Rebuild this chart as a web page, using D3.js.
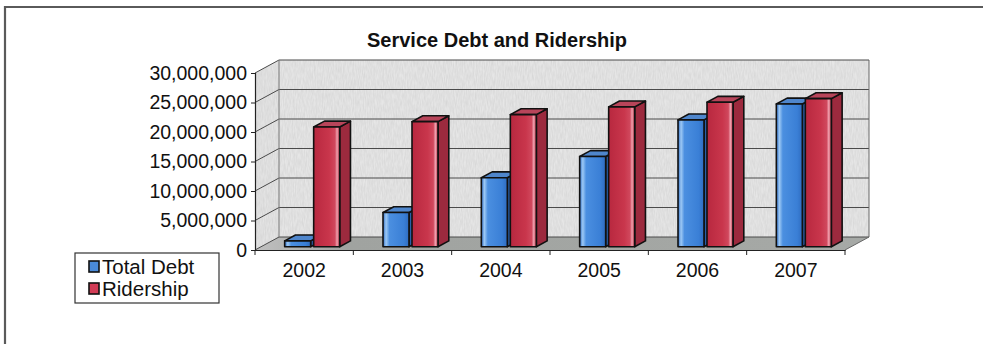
<!DOCTYPE html>
<html>
<head>
<meta charset="utf-8">
<script src="https://cdn.jsdelivr.net/npm/d3@7/dist/d3.min.js"></script>
<style>
  html, body { margin: 0; padding: 0; background: #fff; }
  svg { display: block; font-family: Arial, "Liberation Sans", sans-serif; }
</style>
</head>
<body>
<svg id="chart" width="983" height="344"></svg>
<script>
// Yearly values for the service
const years = ["2002", "2003", "2004", "2005", "2006", "2007"];
const totalDebt = [1000000, 5800000, 11700000, 15300000, 21500000, 24200000];
const ridership = [20300000, 21200000, 22400000, 23700000, 24500000, 25100000];
const seriesNames = ["Total Debt", "Ridership"];
const yTicks = [0, 5000000, 10000000, 15000000, 20000000, 25000000, 30000000];

const svg = d3.select("#chart");
const defs = svg.append("defs");

// Layout of the 3D box
const axisX0 = 255, axisX1 = 845;
const axisY0 = 250, axisY1 = 73;
const depth = { dx: 24, dy: -13 };     // floor/wall depth offset
const barFront = 0.25, barDepth = 0.45; // bar placement along depth

const x = d3.scaleBand().domain(years).range([axisX0, axisX1]);
const y = d3.scaleLinear().domain([0, 30000000]).range([axisY0, axisY1]);

// Outer frame
svg.append("path")
  .attr("d", "M5,344 L5,7 L990,7")
  .attr("fill", "none").attr("stroke", "#5a5a5a").attr("stroke-width", 2.2);

// Textures and gradients
const tex = defs.append("filter").attr("id", "grain").attr("x", 0).attr("y", 0).attr("width", 1).attr("height", 1);
tex.append("feTurbulence").attr("type", "fractalNoise").attr("baseFrequency", "0.9 0.15").attr("numOctaves", 2).attr("seed", 3).attr("result", "n");
tex.append("feColorMatrix").attr("in", "n").attr("type", "matrix")
  .attr("values", "0 0 0 0 0.55  0 0 0 0 0.55  0 0 0 0 0.55  0 0 0 0.7 -0.15").attr("result", "g");
tex.append("feComposite").attr("in", "g").attr("in2", "SourceGraphic").attr("operator", "in").attr("result", "gi");
tex.append("feMerge").selectAll("feMergeNode").data(["SourceGraphic", "gi"]).join("feMergeNode").attr("in", d => d);

const floorGrad = defs.append("linearGradient").attr("id", "floorGrad").attr("x1", 0).attr("x2", 1).attr("y1", 0).attr("y2", 0);
floorGrad.append("stop").attr("offset", 0).attr("stop-color", "#c0c0c0");
floorGrad.append("stop").attr("offset", 0.15).attr("stop-color", "#a0a3a0");
floorGrad.append("stop").attr("offset", 1).attr("stop-color", "#a6a9a6");

const blueGrad = defs.append("linearGradient").attr("id", "blueFront").attr("x1", 0).attr("x2", 1);
[[0, "#2f6fc8"], [0.12, "#9cc8f4"], [0.25, "#4b8fe0"], [0.8, "#3a7fd6"], [1, "#2f6cc0"]]
  .forEach(([o, c]) => blueGrad.append("stop").attr("offset", o).attr("stop-color", c));
const redGrad = defs.append("linearGradient").attr("id", "redFront").attr("x1", 0).attr("x2", 1);
[[0, "#b8283f"], [0.6, "#c9364c"], [0.82, "#d0485d"], [0.9, "#f0a0ae"], [1, "#c03348"]]
  .forEach(([o, c]) => redGrad.append("stop").attr("offset", o).attr("stop-color", c));

const pt = (px, py) => px + "," + py;
const dX = depth.dx, dY = depth.dy;

// Back wall
const plot = svg.append("g");
plot.append("polygon")
  .attr("points", [pt(axisX0 + dX, y(30000000) + dY), pt(axisX1 + dX, y(30000000) + dY),
                   pt(axisX1 + dX, y(0) + dY), pt(axisX0 + dX, y(0) + dY)].join(" "))
  .attr("fill", "#e6e6e6").attr("filter", "url(#grain)");
// Side wall
plot.append("polygon")
  .attr("points", [pt(axisX0, y(30000000)), pt(axisX0 + dX, y(30000000) + dY),
                   pt(axisX0 + dX, y(0) + dY), pt(axisX0, y(0))].join(" "))
  .attr("fill", "#e4e4e4").attr("filter", "url(#grain)");
// Floor
plot.append("polygon")
  .attr("points", [pt(axisX0, y(0)), pt(axisX1, y(0)), pt(axisX1 + dX, y(0) + dY), pt(axisX0 + dX, y(0) + dY)].join(" "))
  .attr("fill", "url(#floorGrad)");

// Gridlines on walls
const grid = plot.append("g").attr("stroke", "#4a4a4a").attr("stroke-width", 1).attr("fill", "none");
yTicks.forEach(v => {
  const yy = y(v);
  grid.append("path").attr("d", `M${axisX0},${yy} L${axisX0 + dX},${yy + dY} L${axisX1 + dX},${yy + dY}`);
});
grid.append("path").attr("d", `M${axisX0 + dX},${y(30000000) + dY} L${axisX0 + dX},${y(0) + dY}`).attr("stroke", "#777");
grid.append("path").attr("d", `M${axisX1 + dX},${y(30000000) + dY} L${axisX1 + dX},${y(0) + dY} L${axisX1},${y(0)}`).attr("stroke", "#666");

const labelFont = "Arial, 'Liberation Sans', sans-serif";

// Value axis
const yAxis = svg.append("g").attr("transform", `translate(${axisX0},0)`)
  .call(d3.axisLeft(y).tickValues(yTicks).tickSize(4).tickPadding(4).tickFormat(d3.format(",")));
yAxis.select(".domain").attr("stroke", "#222").attr("stroke-width", 1.2);
yAxis.selectAll(".tick line").attr("stroke", "#222");
yAxis.selectAll("text").attr("font-size", 19.5).attr("fill", "#111").attr("font-family", labelFont);

// Category axis
const xAxis = svg.append("g").attr("transform", `translate(0,${axisY0})`)
  .call(d3.axisBottom(x).tickSize(0).tickPadding(13));
xAxis.select(".domain").attr("stroke", "#222").attr("stroke-width", 1.2);
xAxis.selectAll("text").attr("font-size", 19.5).attr("fill", "#111").attr("font-family", labelFont);
xAxis.selectAll(".sep").data(years.concat(["end"])).join("line").attr("class", "sep")
  .attr("x1", (d, i) => i < years.length ? x(d) : axisX1)
  .attr("x2", (d, i) => i < years.length ? x(d) : axisX1)
  .attr("y1", 0).attr("y2", 5).attr("stroke", "#222");

// Bars
const barW = 26, barGap = 3;
const groupW = barW * 2 + barGap;
const fx = dX * barFront, fy = dY * barFront;
const bdx = dX * barDepth, bdy = dY * barDepth;
const colours = [
  { front: "url(#blueFront)", top: "#4f86cc", side: "#2a5fa8" },
  { front: "url(#redFront)", top: "#b8455a", side: "#9c2a3e" }
];

const bars = [];
years.forEach((yr, i) => {
  [totalDebt[i], ridership[i]].forEach((v, s) => bars.push({ yr, v, s }));
});

const barG = svg.append("g");
bars.forEach(b => {
  const x0 = x(b.yr) + (x.bandwidth() - groupW) / 2 + 2 + b.s * (barW + barGap) + fx;
  const x1 = x0 + barW;
  const yb = y(0) + fy;
  const yt = y(b.v) + fy;
  const c = colours[b.s];
  const g = barG.append("g").attr("stroke", "#111").attr("stroke-width", 1.6).attr("stroke-linejoin", "round");
  g.append("polygon")
    .attr("points", [pt(x1, yt), pt(x1 + bdx, yt + bdy), pt(x1 + bdx, yb + bdy), pt(x1, yb)].join(" "))
    .attr("fill", c.side);
  g.append("polygon")
    .attr("points", [pt(x0, yt), pt(x0 + bdx, yt + bdy), pt(x1 + bdx, yt + bdy), pt(x1, yt)].join(" "))
    .attr("fill", c.top);
  g.append("rect").attr("x", x0).attr("y", yt).attr("width", barW).attr("height", yb - yt)
    .attr("fill", c.front);
});

// Title
svg.append("text").attr("x", 497).attr("y", 47).attr("text-anchor", "middle")
  .attr("font-size", 20).attr("font-weight", "bold").attr("fill", "#111").attr("font-family", labelFont)
  .text("Service Debt and Ridership");

// Legend
const legend = svg.append("g").attr("transform", "translate(75,253)");
legend.append("rect").attr("width", 144).attr("height", 50)
  .attr("fill", "#fff").attr("stroke", "#333").attr("stroke-width", 1.2);
const swatch = ["#4a8ad8", "#d23c56"];
seriesNames.forEach((name, i) => {
  const row = legend.append("g").attr("transform", `translate(14,${14 + i * 22})`);
  row.append("rect").attr("x", 0).attr("y", -6).attr("width", 10).attr("height", 11)
    .attr("fill", swatch[i]).attr("stroke", "#111").attr("stroke-width", 1.6);
  row.append("text").attr("x", 13).attr("y", 7).attr("font-size", 20.5).attr("fill", "#111")
    .attr("font-family", labelFont).text(name);
});
</script>
</body>
</html>
